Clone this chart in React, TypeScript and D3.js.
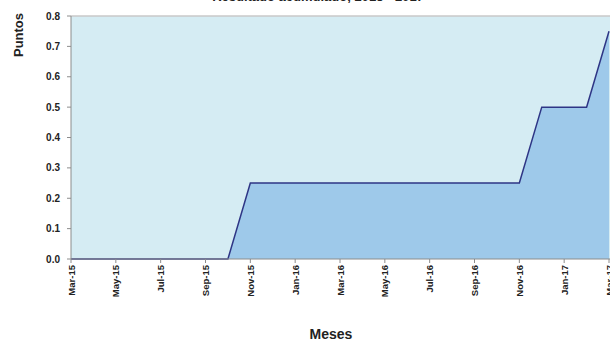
import React from "react";
import * as d3 from "d3";

const months = [
  "Mar-15", "Apr-15", "May-15", "Jun-15", "Jul-15", "Aug-15", "Sep-15", "Oct-15",
  "Nov-15", "Dec-15", "Jan-16", "Feb-16", "Mar-16", "Apr-16", "May-16", "Jun-16",
  "Jul-16", "Aug-16", "Sep-16", "Oct-16", "Nov-16", "Dec-16", "Jan-17", "Feb-17", "Mar-17",
];
const puntos = [
  0, 0, 0, 0, 0, 0, 0, 0,
  0.25, 0.25, 0.25, 0.25, 0.25, 0.25, 0.25, 0.25,
  0.25, 0.25, 0.25, 0.25, 0.25, 0.5, 0.5, 0.5, 0.75,
];
const yTicks = [0, 0.1, 0.2, 0.3, 0.4, 0.5, 0.6, 0.7, 0.8];
const titleText = "Resultado acumulado, 2015 - 2017";

const W = 610;
const H = 341;
const left = 71;
const right = 609;
const top = 16;
const bottom = 259;
const font = "Liberation Sans, Arial, sans-serif";

export default function App() {
  const x = d3.scalePoint<string>().domain(months).range([left, right]);
  const y = d3.scaleLinear().domain([0, 0.8]).range([bottom, top]);
  const data = months.map((m, i) => ({ m, v: puntos[i] }));

  const area = d3
    .area<{ m: string; v: number }>()
    .x((d) => x(d.m) as number)
    .y0(y(0))
    .y1((d) => y(d.v));
  const line = d3
    .line<{ m: string; v: number }>()
    .x((d) => x(d.m) as number)
    .y((d) => y(d.v));

  const labelled = months.filter((_, i) => i % 2 === 0);

  return (
    <svg
      width={W}
      height={H}
      style={{ position: "absolute", left: 0, top: 0, display: "block" }}
      fontFamily={font}
    >
      <rect x={0} y={0} width={W} height={H} fill="#ffffff" />
      <text x={318} y={0.5} textAnchor="middle" fontSize={13} fontWeight="bold" fill="#222">
        {titleText}
      </text>
      {/* plot background */}
      <rect x={left} y={top} width={right - left + 2} height={bottom - top} fill="#d5ecf3" />
      <line x1={left} x2={W} y1={top} y2={top} stroke="#c8c8c8" strokeWidth={1.5} />
      <path d={area(data) || ""} fill="#9ec9ea" />
      <path d={line(data) || ""} fill="none" stroke="#2e3585" strokeWidth={1.5} />
      {/* y axis */}
      <line x1={left} x2={left} y1={top} y2={bottom} stroke="#8c8c8c" />
      {yTicks.map((t) => (
        <g key={t}>
          <line x1={left - 4} x2={left} y1={y(t)} y2={y(t)} stroke="#8c8c8c" />
          <text
            x={60}
            y={y(t)}
            dy="0.35em"
            textAnchor="end"
            fontSize={10}
            fontWeight="bold"
            fill="#222"
          >
            {t.toFixed(1)}
          </text>
        </g>
      ))}
      <text
        transform={`translate(23,35) rotate(-90)`}
        textAnchor="middle"
        fontSize={13}
        fontWeight="bold"
        fill="#222"
      >
        Puntos
      </text>
      {/* x axis */}
      <line x1={left} x2={W} y1={bottom} y2={bottom} stroke="#8c8c8c" />
      {labelled.map((m) => (
        <g key={m}>
          <line x1={x(m)} x2={x(m)} y1={bottom} y2={bottom + 4} stroke="#8c8c8c" />
          <text
            transform={`translate(${(x(m) as number) + 3.5},${bottom + 6}) rotate(-90)`}
            textAnchor="end"
            fontSize={9.5}
            fontWeight="bold"
            fill="#222"
          >
            {m}
          </text>
        </g>
      ))}
      <text x={331} y={339} textAnchor="middle" fontSize={14} fontWeight="bold" fill="#222">
        Meses
      </text>
    </svg>
  );
}
